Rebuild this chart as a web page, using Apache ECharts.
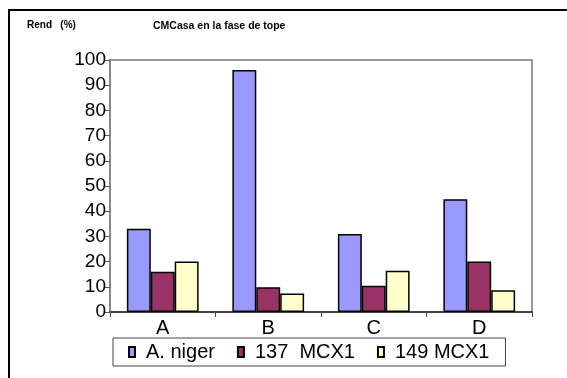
<!DOCTYPE html>
<html><head><meta charset="utf-8">
<script src="https://cdn.jsdelivr.net/npm/echarts@6/dist/echarts.min.js"></script>
<style>html,body{margin:0;padding:0;background:#fff}#c{width:567px;height:378px}</style>
</head><body><div id="c"></div>
<script>
const categories = ['A', 'B', 'C', 'D'];
const seriesNames = ['A. niger', '137  MCX1', '149 MCX1'];
const aNiger = [33, 96, 31, 44.7];
const mcx137 = [16, 9.8, 10.4, 20];
const mcx149 = [20, 7.3, 16.4, 8.6];
const yTicks = { min: 0, max: 100, interval: 10 };
const colors = ['#9999FF', '#993366', '#FFFFCC'];
const values = [aNiger, mcx137, mcx149];

const chart = echarts.init(document.getElementById('c'));
const font = 'Liberation Sans, Arial, sans-serif';
chart.setOption({
  animation: false,
  textStyle: { fontFamily: font },
  graphic: [
    { type: 'rect', z: 100, shape: { x: 9, y: 10, width: 700, height: 500 },
      style: { fill: null, stroke: '#000', lineWidth: 2 } },
    { type: 'text', left: 27, top: 20, style: { text: 'Rend   (%)', font: 'bold 10px ' + font, fill: '#000' } },
    { type: 'text', left: 153, top: 21, style: { text: 'CMCasa en la fase de tope', font: 'bold 10.5px ' + font, fill: '#000' } }
  ],
  grid: { left: 110, top: 60, right: 35, bottom: 66, show: true, borderColor: '#999', borderWidth: 2, backgroundColor: 'transparent' },
  legend: {
    left: 113, top: 338, orient: 'horizontal',
    padding: [4, 16, 4, 15], itemGap: 22,
    itemWidth: 6, itemHeight: 10,
    backgroundColor: '#fff', borderColor: '#444', borderWidth: 1,
    textStyle: { fontSize: 20, color: '#000', fontFamily: font, padding: [3, 0, 0, 6] },
    data: seriesNames.map((n) => ({ name: n, icon: 'rect' })),
    z: 10
  },
  xAxis: {
    type: 'category', data: categories,
    axisLine: { lineStyle: { color: '#444', width: 2 } },
    axisTick: { show: true, length: 5, lineStyle: { color: '#444' } },
    axisLabel: { fontSize: 20, color: '#000', margin: 6, fontFamily: font }
  },
  yAxis: {
    type: 'value', min: yTicks.min, max: yTicks.max, interval: yTicks.interval,
    axisLine: { show: true, lineStyle: { color: '#888', width: 2 } },
    axisTick: { show: true, length: 6, lineStyle: { color: '#555' } },
    splitLine: { show: false },
    axisLabel: { fontSize: 19, color: '#000', margin: 4, fontFamily: font }
  },
  series: values.map((v, i) => ({
    name: seriesNames[i], type: 'bar', data: v,
    barGap: '0%', barCategoryGap: '32%',
    itemStyle: { color: colors[i], borderColor: '#000', borderWidth: 1.5 }
  }))
});
</script></body></html>
